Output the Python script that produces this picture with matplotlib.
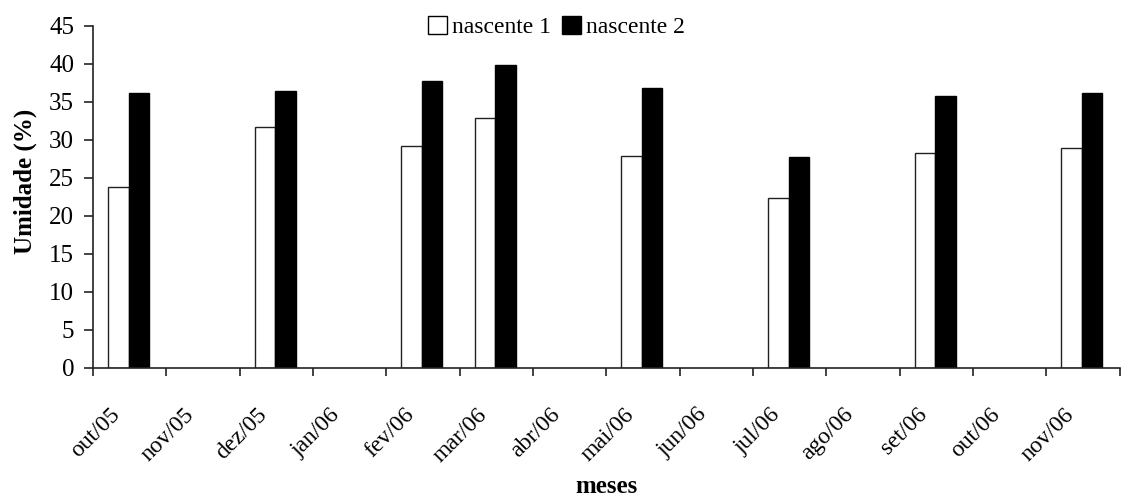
import matplotlib.pyplot as plt
import numpy as np
from matplotlib.patches import Patch

meses = [
    "out/05", "nov/05", "dez/05", "jan/06", "fev/06", "mar/06", "abr/06",
    "mai/06", "jun/06", "jul/06", "ago/06", "set/06", "out/06", "nov/06",
]
nascente_1 = [23.8, np.nan, 31.7, np.nan, 29.2, 32.8, np.nan,
              27.9, np.nan, 22.4, np.nan, 28.3, np.nan, 28.9]
nascente_2 = [36.2, np.nan, 36.4, np.nan, 37.7, 39.8, np.nan,
              36.8, np.nan, 27.7, np.nan, 35.7, np.nan, 36.1]

plt.rcParams["font.family"] = ["Liberation Serif", "DejaVu Serif"]

figure = plt.figure(figsize=(11.23, 5.04), dpi=100)
axis = figure.add_axes([0.0828, 0.270, 0.9142, 0.679])

positions = np.arange(len(meses))
bar_width = 0.28

axis.bar(positions - bar_width / 2 - 0.015, nascente_1, width=bar_width,
         color="white", edgecolor="#222222", linewidth=1.0)
axis.bar(positions + bar_width / 2 - 0.015, nascente_2, width=bar_width,
         color="black", edgecolor="black", linewidth=1.0)

axis.set_xlim(-0.5, len(meses) - 0.5)
axis.set_ylim(0, 45)
axis.set_yticks(np.arange(0, 46, 5))

# rotated labels sit a little left of the category centre, as in Excel
label_offset = 0.27
axis.set_xticks(positions - label_offset)
axis.set_xticklabels(meses, rotation=45, ha="right", va="top",
                     rotation_mode="anchor", fontsize=17)
axis.set_xticks(np.arange(-0.5, len(meses), 1.0), minor=True)
axis.tick_params(axis="x", which="major", length=0, pad=26)
axis.tick_params(axis="x", which="minor", length=6, width=1.2,
                 direction="out", color="#222222")
axis.tick_params(axis="y", length=6.5, width=1.2, labelsize=18,
                 color="#222222", pad=7)

axis.spines["top"].set_visible(False)
axis.spines["right"].set_visible(False)
axis.spines["left"].set_linewidth(1.2)
axis.spines["bottom"].set_linewidth(1.2)
axis.spines["left"].set_color("#222222")
axis.spines["bottom"].set_color("#222222")

axis.set_ylabel("Umidade (%)", fontsize=18, fontweight="bold")
axis.yaxis.set_label_coords(-0.055, 0.545)
figure.text(0.540, 0.012, "meses", fontsize=18, fontweight="bold",
            ha="center", va="bottom")

handles = [
    Patch(facecolor="white", edgecolor="black", linewidth=1.0,
          label="nascente 1"),
    Patch(facecolor="black", edgecolor="black", linewidth=1.0,
          label="nascente 2"),
]
figure.legend(handles=handles, loc="center", bbox_to_anchor=(0.4955, 0.946),
              ncol=2, frameon=False, fontsize=17, handlelength=0.8,
              handleheight=0.8, handletextpad=0.2, columnspacing=0.5,
              borderpad=0.1)

figure.savefig("out.png", dpi=100)
